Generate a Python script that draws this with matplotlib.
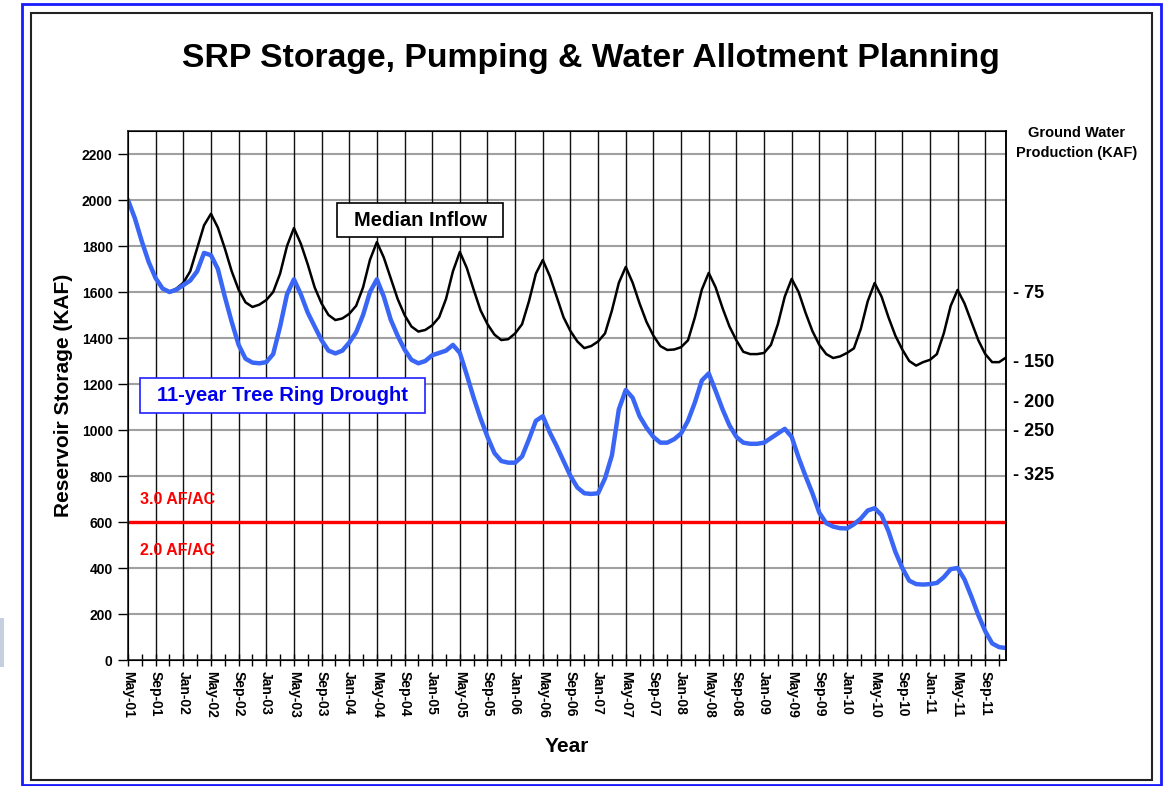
import matplotlib
matplotlib.use("Agg")
import matplotlib.pyplot as plt
from matplotlib.patches import Rectangle
import numpy as np

plt.rcParams['font.family'] = ['Liberation Sans', 'DejaVu Sans']
plt.rcParams['font.weight'] = 'bold'

# ---------------- data ----------------
tick_labels = ['May-01', 'Sep-01', 'Jan-02', 'May-02', 'Sep-02', 'Jan-03', 'May-03', 'Sep-03',
               'Jan-04', 'May-04', 'Sep-04', 'Jan-05', 'May-05', 'Sep-05', 'Jan-06', 'May-06',
               'Sep-06', 'Jan-07', 'May-07', 'Sep-07', 'Jan-08', 'May-08', 'Sep-08', 'Jan-09',
               'May-09', 'Sep-09', 'Jan-10', 'May-10', 'Sep-10', 'Jan-11', 'May-11', 'Sep-11']

# monthly storage (KAF), May-01 .. Dec-11
median_inflow = [
    2000, 1920, 1820, 1730, 1660, 1615, 1600, 1615, 1640, 1690, 1790, 1890,
    1940, 1880, 1790, 1690, 1610, 1555, 1535, 1545, 1565, 1600, 1680, 1800,
    1878, 1810, 1720, 1620, 1550, 1500, 1478, 1485, 1505, 1540, 1620, 1740,
    1817, 1750, 1660, 1570, 1500, 1450, 1428, 1435, 1455, 1490, 1570, 1690,
    1774, 1705, 1610, 1520, 1460, 1415, 1391, 1395, 1420, 1460, 1560, 1680,
    1739, 1670, 1580, 1490, 1430, 1385, 1356, 1365, 1385, 1420, 1520, 1640,
    1709, 1640, 1550, 1470, 1410, 1365, 1348, 1350, 1360, 1390, 1490, 1610,
    1683, 1620, 1530, 1450, 1390, 1340, 1330, 1330, 1335, 1370, 1460, 1580,
    1657, 1600, 1510, 1430, 1370, 1330, 1313, 1320, 1335, 1355, 1440, 1560,
    1639, 1580, 1490, 1410, 1350, 1300, 1280, 1295, 1305, 1330, 1420, 1540,
    1609, 1550, 1470, 1390, 1330, 1295, 1295, 1315]

tree_ring_drought = [
    2000, 1920, 1820, 1730, 1660, 1615, 1600, 1610, 1630, 1650, 1690, 1770,
    1760, 1700, 1580, 1470, 1370, 1310, 1293, 1290, 1295, 1330, 1450, 1590,
    1655, 1590, 1510, 1450, 1390, 1345, 1333, 1345, 1380, 1425, 1500, 1600,
    1655, 1580, 1480, 1410, 1350, 1305, 1290, 1300, 1325, 1335, 1345, 1370,
    1335, 1240, 1140, 1050, 970, 900, 865, 858, 858, 885, 960, 1040,
    1060, 990, 930, 865, 800, 750, 725, 722, 725, 790, 890, 1090,
    1174, 1140, 1060, 1010, 970, 945, 945, 960, 985, 1040, 1120, 1215,
    1246, 1170, 1090, 1020, 970, 945, 940, 940, 945, 965, 985, 1005,
    970, 880, 800, 725, 640, 595, 580, 573, 572, 590, 615, 650,
    660, 630, 560, 470, 400, 345, 330, 328, 330, 335, 360, 395,
    400, 350, 275, 195, 125, 72, 56, 52]

allotment_threshold = 600
gw_production = ['- 75', '- 150', '- 200', '- 250', '- 325']
gw_storage_level = [1600, 1300, 1130, 1000, 810]

# ---------------- figure ----------------
W, H = 1166, 786
fig = plt.figure(figsize=(W / 100, H / 100), dpi=100)

def fx(px):
    return px / W

def fy(py):
    return 1 - py / H

def fig_box(x0, y0, x1, y1, **kw):
    fig.patches.append(Rectangle((fx(x0), fy(y1)), fx(x1) - fx(x0), fy(y0) - fy(y1),
                                 transform=fig.transFigure, **kw))

# frames
fig_box(22, 4, 1161, 785, fill=False, edgecolor='#1a1aff', lw=2)
fig_box(31, 13, 1152, 780, fill=False, edgecolor='#222222', lw=1.5)
fig_box(0, 618, 4, 667, fill=True, facecolor='#c6cfe0', edgecolor='none')

ax = fig.add_axes([fx(128), fy(660), fx(1006) - fx(128), fy(131) - fy(660)])
x = np.arange(len(median_inflow))

ax.set_xlim(0, len(median_inflow) - 1)
ax.set_ylim(0, 2300)

# grid
ax.set_yticks(np.arange(0, 2201, 200))
ax.set_xticks(np.arange(0, len(tick_labels) * 4, 4))
ax.set_xticks(np.arange(2, len(median_inflow), 4), minor=True)
for yv in np.arange(200, 2300, 200):
    ax.axhline(yv, color='#a0a0a0', lw=1.5, zorder=1)
for xv in np.arange(4, len(tick_labels) * 4, 4):
    ax.axvline(xv, color='#111111', lw=1.0, zorder=1)

ax.axhline(allotment_threshold, color='#ff0000', lw=2.4, zorder=2)

ax.plot(x, median_inflow, color='black', lw=1.8, zorder=3, solid_joinstyle='round')
ax.plot(x, tree_ring_drought, color='#3a66f5', lw=3.2, zorder=4, solid_joinstyle='round',
        solid_capstyle='round')

ax.set_xticklabels(tick_labels, rotation=270, fontsize=10, fontweight='bold')
ax.set_yticklabels([str(v) for v in range(0, 2201, 200)], fontsize=10, fontweight='bold')
ax.tick_params(axis='x', which='both', direction='inout', length=8, width=1, pad=4)
ax.tick_params(axis='y', direction='out', length=7, width=1, pad=4)
for sp in ax.spines.values():
    sp.set_linewidth(1.2)
    sp.set_color('#222222')

ax.set_ylabel('Reservoir Storage (KAF)', fontsize=15, fontweight='bold', labelpad=6)
ax.set_xlabel('Year', fontsize=15, fontweight='bold', labelpad=14)

# right axis: ground water production
ax2 = ax.twinx()
ax2.set_ylim(ax.get_ylim())
ax2.set_yticks(gw_storage_level)
ax2.set_yticklabels(gw_production, fontsize=13, fontweight='bold')
ax2.tick_params(axis='y', length=0, pad=5)
ax2.spines['right'].set_linewidth(1.2)

fig.text(fx(1077), fy(143), 'Ground Water\nProduction (KAF)', ha='center', va='center',
         fontsize=10.5, fontweight='bold', linespacing=1.5)

# annotations (boxes drawn in figure pixels)
fig_box(337, 203, 503, 237, fill=True, facecolor='white', edgecolor='black', lw=1.2, zorder=5)
fig.text(fx(420), fy(220), 'Median Inflow', fontsize=14.5, fontweight='bold', color='black',
         ha='center', va='center', zorder=6)
fig_box(140, 378, 425, 413, fill=True, facecolor='white', edgecolor='#2020ff', lw=1.2, zorder=5)
fig.text(fx(282.5), fy(396), '11-year Tree Ring Drought', fontsize=14.5, fontweight='bold',
         color='#0000ee', ha='center', va='center', zorder=6)
ax.text(1.7, 697, '3.0 AF/AC', fontsize=11.5, fontweight='bold', color='#ff0000',
        ha='left', va='center', zorder=6)
ax.text(1.7, 478, '2.0 AF/AC', fontsize=11.5, fontweight='bold', color='#ff0000',
        ha='left', va='center', zorder=6)

fig.text(fx(591), fy(58), 'SRP Storage, Pumping & Water Allotment Planning', ha='center',
         va='center', fontsize=24.3, fontweight='bold')

fig.savefig('out.png', dpi=100)
